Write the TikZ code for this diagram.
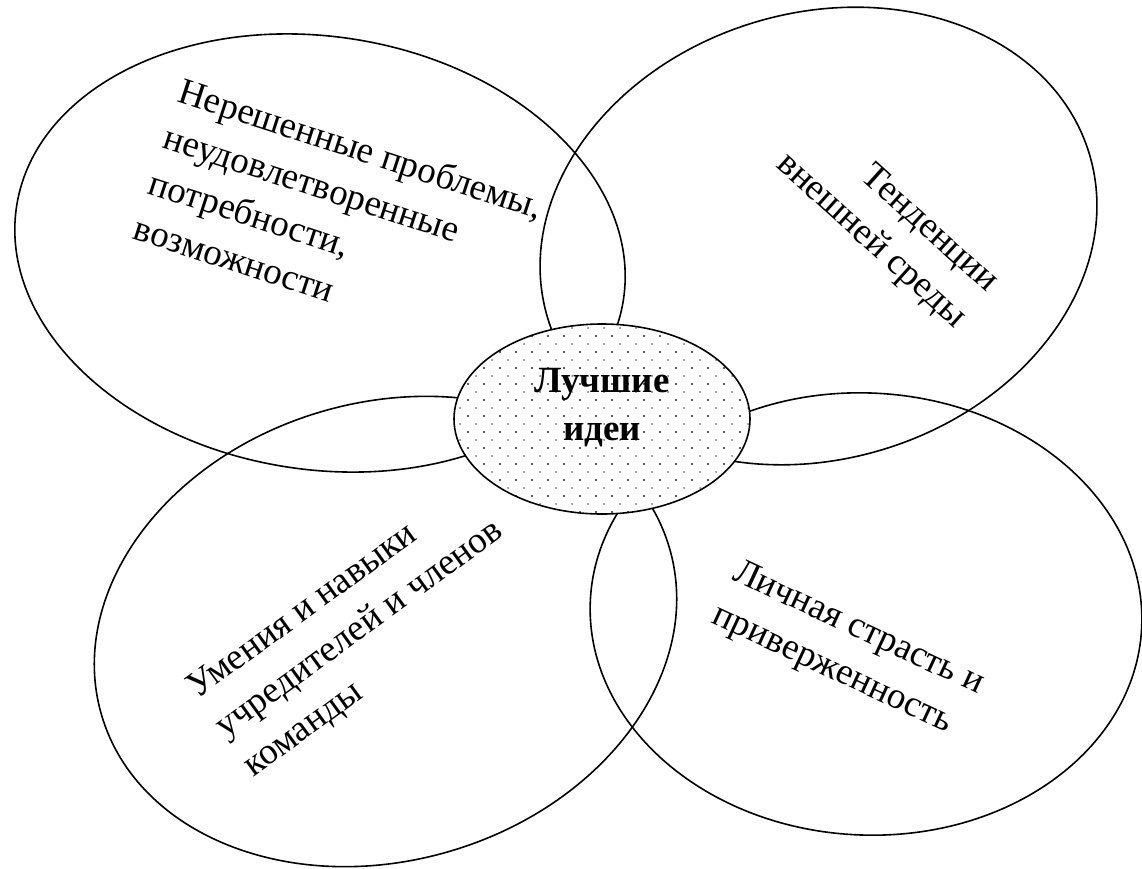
\documentclass[tikz,border=0pt]{standalone}
\usepackage{fontspec}
\setmainfont{Liberation Serif}
\usetikzlibrary{patterns}
\pgfdeclarepatterninherentlycolored{staggerdots}{\pgfqpoint{-2pt}{-2pt}}{\pgfqpoint{18pt}{18pt}}{\pgfqpoint{16pt}{16pt}}{%
  \pgfsetfillcolor{black!85}%
  \pgfpathcircle{\pgfqpoint{4pt}{4pt}}{1.2pt}\pgfusepath{fill}%
  \pgfsetfillcolor{black!55}%
  \pgfpathcircle{\pgfqpoint{12pt}{12pt}}{1pt}\pgfusepath{fill}%
}
\begin{document}
\begin{tikzpicture}[x=1pt,y=-1pt,
  lobe/.style={draw=black, line width=1.6pt},
  lbl/.style={font=\fontsize{37}{48}\selectfont, inner sep=0pt},
  core/.style={lobe, preaction={fill=white}, pattern=staggerdots}
]
\useasboundingbox (0,0) rectangle (1142,868);
\fill[white] (0,0) rectangle (1142,868);
% four lobes
\draw[lobe, rotate around={-8.8:(320,253)}] (320,253) ellipse [x radius=307, y radius=216.5];
\draw[lobe, rotate around={17:(818.5,236)}] (818.5,236) ellipse [x radius=283, y radius=223];
\draw[lobe, rotate around={16.5:(385.5,631.5)}] (385.5,631.5) ellipse [x radius=296, y radius=229];
\draw[lobe, rotate around={-3:(866,614)}] (866,614) ellipse [x radius=276, y radius=221];
% centre
\draw[core] (602,419) ellipse [x radius=148, y radius=95];
% labels
\node[lbl, align=left, rotate=-18] (needs) at (339,216.5)
  {Нерешенные проблемы,\\неудовлетворенные\\потребности,\\возможности};
\node[lbl, align=right, rotate=-42] (trends) at (886.6,224)
  {Тенденции\\внешней среды};
\node[lbl, align=left, rotate=36] (skills) at (360,630)
  {Умения и навыки\\учредителей и членов\\команды};
\node[lbl, align=left, rotate=-25] (passion) at (848,651)
  {Личная страсть и\\приверженность};
\node[lbl, font=\fontsize{37}{48}\selectfont\bfseries, align=center] (ideas) at (602,408)
  {Лучшие\\идеи};
\end{tikzpicture}
\end{document}
